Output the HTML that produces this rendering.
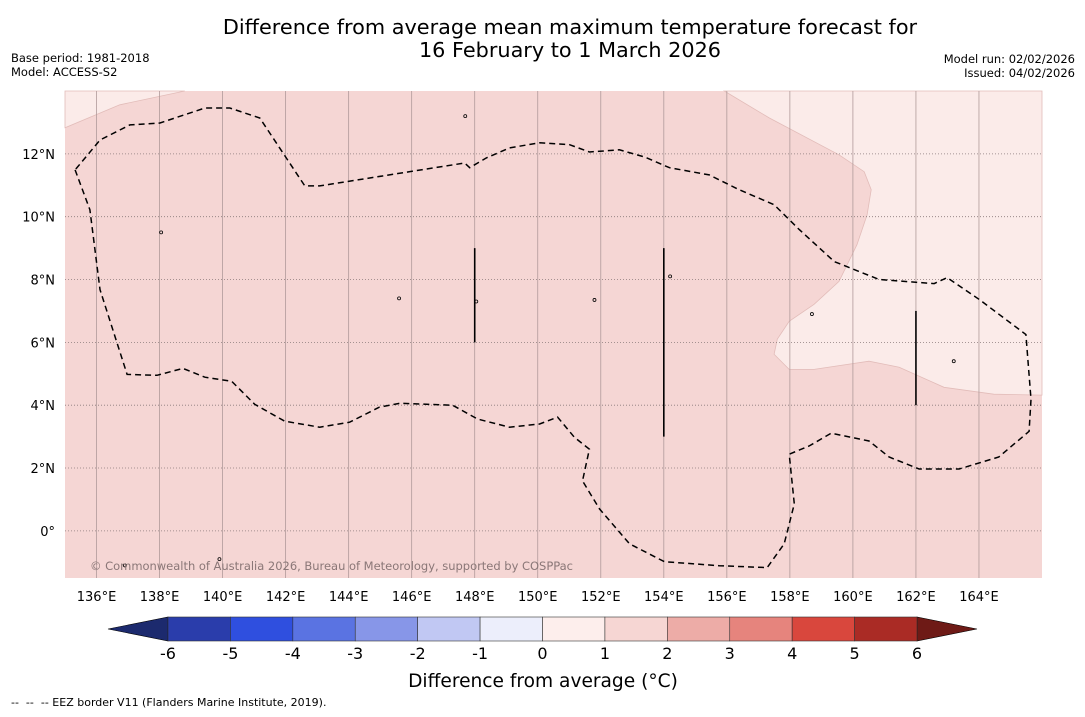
<!DOCTYPE html>
<html><head><meta charset="utf-8"><style>
body{margin:0;background:#fff;width:1085px;height:713px;overflow:hidden;font-family:"DejaVu Sans","Liberation Sans",sans-serif}
text{white-space:pre}
</style></head><body>
<svg id="chart" width="1085" height="713" xmlns="http://www.w3.org/2000/svg" font-family="DejaVu Sans, Liberation Sans, sans-serif">
<text x="570" y="34" font-size="20.8" text-anchor="middle">Difference from average mean maximum temperature forecast for</text>
<text x="570" y="57" font-size="20.8" text-anchor="middle">16 February to 1 March 2026</text>
<text x="11" y="62" font-size="11.5">Base period: 1981-2018</text>
<text x="11" y="76" font-size="11.5">Model: ACCESS-S2</text>
<text x="1075" y="63" font-size="11.5" text-anchor="end">Model run: 02/02/2026</text>
<text x="1075" y="77" font-size="11.5" text-anchor="end">Issued: 04/02/2026</text>
<g id="map"></g>
<g id="cbar"></g>
<text x="543" y="687" font-size="18.6" text-anchor="middle">Difference from average (°C)</text>
<text x="11" y="706" font-size="11" xml:space="preserve">--  --  -- EEZ border V11 (Flanders Marine Institute, 2019).</text>
</svg>
<script>
const lonTicks=[136,138,140,142,144,146,148,150,152,154,156,158,160,162,164];
const latTicks=[0,2,4,6,8,10,12];
const cbLevels=[-6,-5,-4,-3,-2,-1,0,1,2,3,4,5,6];
const cbColors=["#2a3dab","#2f4fdf","#5a73e2","#8796e8","#c1c8f3","#eceefb","#fdeeec","#f6d6d3","#edaca7","#e6847d","#d9473d","#aa2b25"];
const cbLow="#1c2a6e", cbHigh="#6e1a16";
const baseColor="#f5d6d4", lightColor="#fbebe9";
const lightNW=[[135,12.83],[136.74,13.56],[138.8,14],[135,14]];
const lightNE=[[155.92,14],[157.35,13.14],[159.56,11.97],[160.36,11.43],[160.58,10.86],[160.45,10.06],[160.13,9.11],[159.56,7.94],[158.77,7.21],[157.98,6.67],[157.6,6.1],[157.5,5.62],[157.98,5.14],[158.77,5.14],[160.51,5.4],[161.47,5.21],[162.89,4.57],[164.47,4.35],[166,4.32],[166,14]];
const eez=[[135.32,11.49],[135.79,10.22],[136.11,7.68],[136.97,4.98],[137.92,4.95],[138.74,5.17],[139.44,4.89],[140.29,4.76],[141.02,4.03],[141.97,3.49],[143.08,3.3],[144.03,3.46],[144.98,3.94],[145.62,4.06],[147.3,4.0],[148.09,3.56],[149.1,3.3],[150.06,3.4],[150.63,3.62],[151.16,2.98],[151.64,2.6],[151.42,1.59],[151.96,0.7],[152.91,-0.41],[154.02,-0.98],[155.76,-1.11],[157.28,-1.17],[157.82,-0.41],[158.14,0.86],[157.98,2.44],[158.61,2.7],[159.31,3.11],[160.51,2.86],[161.15,2.35],[162.1,1.97],[163.37,1.97],[164.63,2.35],[165.59,3.17],[165.65,4.19],[165.49,6.25],[164.0,7.37],[162.99,8.06],[162.58,7.87],[160.83,8.0],[159.41,8.57],[158.3,9.59],[157.5,10.38],[156.39,10.86],[155.44,11.33],[154.18,11.56],[153.39,11.9],[152.59,12.13],[151.64,12.06],[151.01,12.29],[150.06,12.35],[149.1,12.19],[148.37,11.87],[147.84,11.56],[147.68,11.71],[143.08,10.98],[142.61,10.98],[141.18,13.14],[140.23,13.46],[139.44,13.46],[138.01,12.98],[137.06,12.92],[136.11,12.44],[135.32,11.49]];
const segLon=[148,154,162], segLat0=[6,3,4], segLat1=[9,9,7];
const islands=[[147.7,13.2],[138.05,9.5],[151.8,7.35],[148.05,7.3],[158.7,6.9],[163.2,5.4],[139.9,-0.9],[136.9,-1.1],[154.2,8.1],[145.6,7.4]];

const NS="http://www.w3.org/2000/svg";
const X0=65,X1=1042,Y0=91,Y1=578,LON0=135,LON1=166,LAT0=-1.5,LAT1=14;
const xs=l=>X0+(l-LON0)/(LON1-LON0)*(X1-X0);
const ys=a=>Y0+(LAT1-a)/(LAT1-LAT0)*(Y1-Y0);
function mk(t,at,p){const e=document.createElementNS(NS,t);for(const k in at)e.setAttribute(k,at[k]);p.appendChild(e);return e;}
const map=document.getElementById('map');
let r=mk('rect',{x:X0,y:Y0,width:X1-X0,height:Y1-Y0,fill:baseColor},map);


const pts=a=>a.map(p=>xs(p[0]).toFixed(1)+','+ys(p[1]).toFixed(1)).join(' ');
let p1=mk('polygon',{points:pts(lightNW),fill:lightColor,stroke:'#e2bcb9','stroke-width':0.8},map);


let p2=mk('polygon',{points:pts(lightNE),fill:lightColor,stroke:'#e2bcb9','stroke-width':0.8},map);


lonTicks.forEach(l=>{
 let g=mk('line',{x1:xs(l),x2:xs(l),y1:Y0,y2:Y1,stroke:'#b09a9a','stroke-width':0.8},map);
 
 
 let t=mk('text',{x:xs(l),y:601,'font-size':13,'text-anchor':'middle'},map);t.textContent=l+'°E';
 
 
});
latTicks.forEach(a=>{
 let g=mk('line',{x1:X0,x2:X1,y1:ys(a),y2:ys(a),stroke:'#8a7a7a','stroke-width':0.8,'stroke-dasharray':'1,2'},map);
 
 
 let t=mk('text',{x:55,y:ys(a)+5,'font-size':13,'text-anchor':'end'},map);t.textContent=a===0?'0°':a+'°N';
 
 
});
islands.forEach(p=>{
 let c=mk('circle',{cx:xs(p[0]),cy:ys(p[1]),r:1.5,fill:'none',stroke:'#000','stroke-width':0.8},map);
 
 
});
let e=mk('polyline',{points:pts(eez),fill:'none',stroke:'#000','stroke-width':1.5,'stroke-dasharray':'6,4'},map);


segLon.forEach((l,i)=>{
 let s=mk('line',{x1:xs(l),x2:xs(l),y1:ys(segLat1[i]),y2:ys(segLat0[i]),stroke:'#000','stroke-width':1.6},map);
 
 
});
let cp=mk('text',{x:90,y:570,'font-size':11.5,fill:'#8a7777',textLength:483},map);
cp.textContent='© Commonwealth of Australia 2026, Bureau of Meteorology, supported by COSPPac';



const cb=document.getElementById('cbar');
const C0=168,C1=917,CY0=617,CY1=641;
const cx=v=>C0+(v-cbLevels[0])/(cbLevels[cbLevels.length-1]-cbLevels[0])*(C1-C0);
let lo=mk('polygon',{points:`108,${(CY0+CY1)/2} ${C0},${CY0} ${C0},${CY1}`,fill:cbLow,stroke:'#000','stroke-width':0.6},cb);


let hi=mk('polygon',{points:`977,${(CY0+CY1)/2} ${C1},${CY0} ${C1},${CY1}`,fill:cbHigh,stroke:'#000','stroke-width':0.6},cb);


cbColors.forEach((c,i)=>{
 let b=mk('rect',{x:cx(cbLevels[i]),y:CY0,width:cx(cbLevels[i+1])-cx(cbLevels[i]),height:CY1-CY0,fill:c,stroke:'#333','stroke-width':0.6},cb);
 
 
});
cbLevels.forEach(v=>{
 let t=mk('text',{x:cx(v),y:659,'font-size':16,'text-anchor':'middle'},cb);t.textContent=v;
 
 
});
</script>
</body></html>
